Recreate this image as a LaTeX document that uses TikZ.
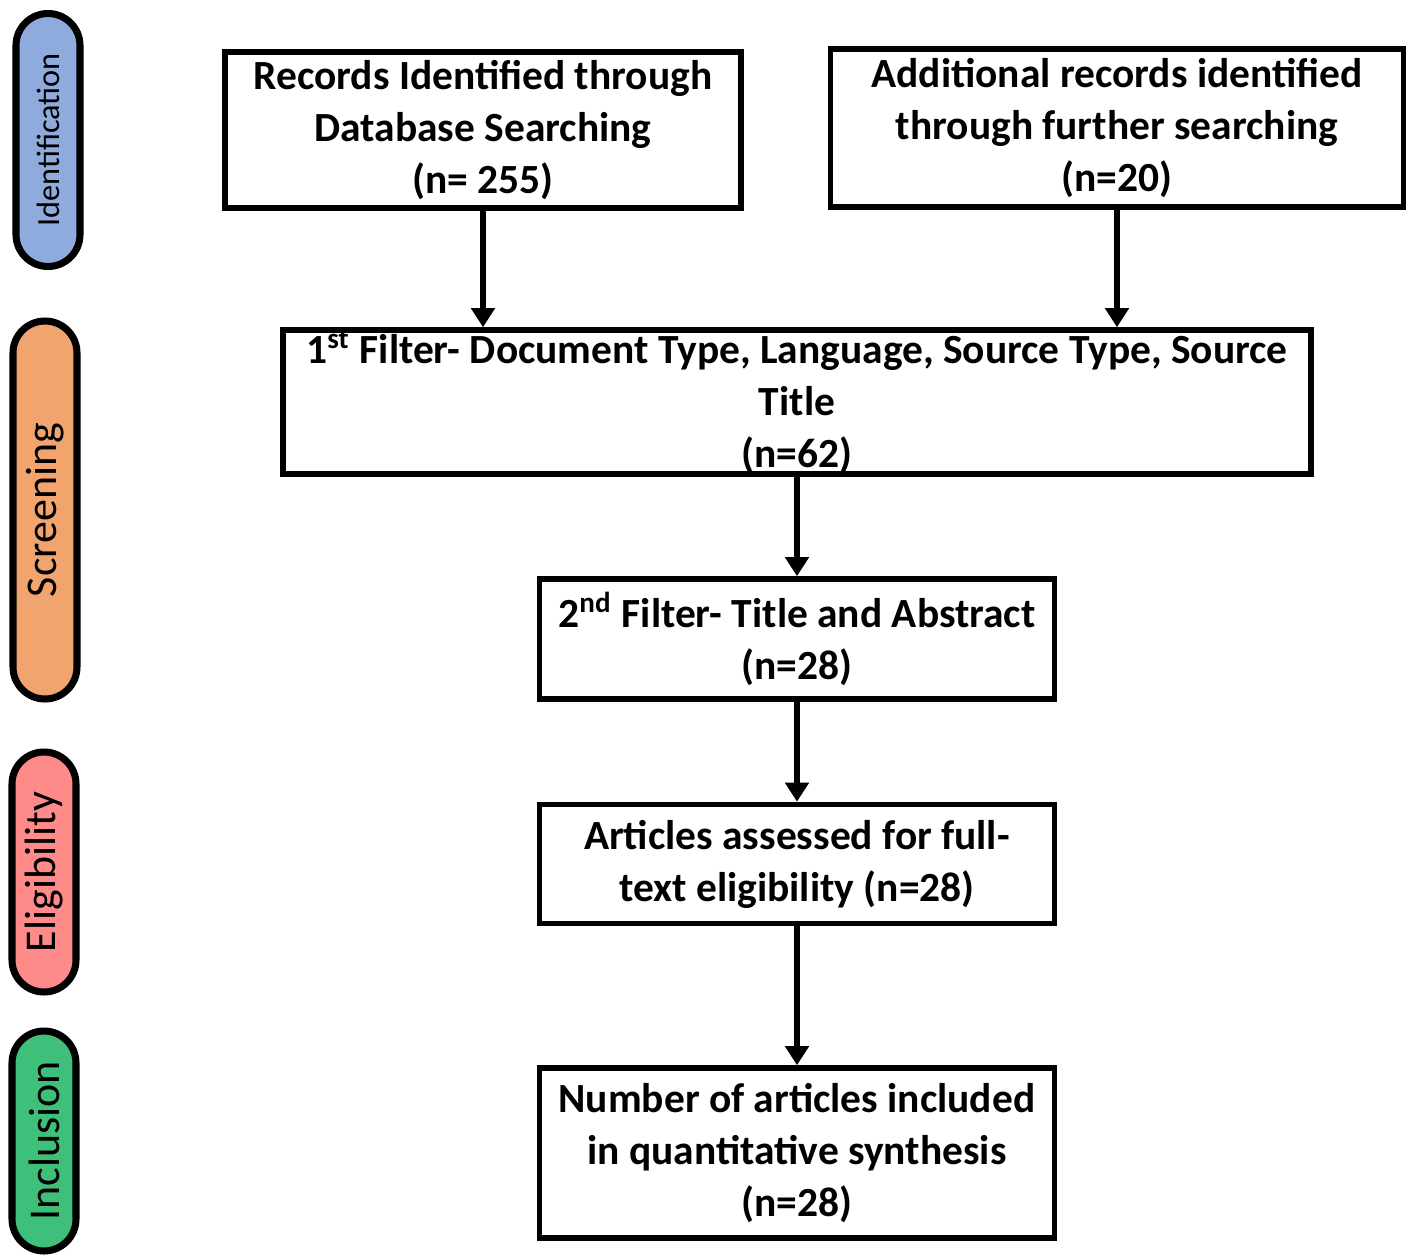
\documentclass[tikz,border=0pt]{standalone}
\usepackage{fontspec}
\setmainfont{Carlito}
\usetikzlibrary{arrows.meta}

\definecolor{idblue}{RGB}{143,170,220}
\definecolor{scrorange}{RGB}{242,164,110}
\definecolor{elgpink}{RGB}{255,138,138}
\definecolor{incgreen}{RGB}{62,192,122}

\begin{document}
\begin{tikzpicture}[
    stagebox/.style={draw, line width=1.6pt, inner xsep=2pt, inner ysep=0pt, align=center,
        font=\fontsize{11.8}{14.8}\selectfont\bfseries},
    phase/.style={draw, line width=2pt, rotate=90, rounded corners=0.32cm, minimum height=0.64cm,
        inner sep=0pt, font=\fontsize{12.5}{14}\selectfont},
    flow/.style={line width=1.7pt, -{Triangle[width=0.23cm,length=0.19cm]}}
]
    \useasboundingbox (0,0) rectangle (14.13,-12.58);

    % Phase labels on the left
    \node[phase, fill=idblue, minimum width=2.53cm, font=\fontsize{9.2}{11}\selectfont] (ident) at (0.48,-1.40) {Identification};
    \node[phase, fill=scrorange, minimum width=3.78cm] (screen) at (0.45,-5.10) {Screening};
    \node[phase, fill=elgpink, minimum width=2.40cm] (elig) at (0.44,-8.72) {Eligibility};
    \node[phase, fill=incgreen, minimum width=2.20cm] (incl) at (0.44,-11.41) {Inclusion};

    % Identification boxes
    \node[stagebox, minimum width=5.16cm, minimum height=1.56cm] (recs) at (4.83,-1.30)
        {Records Identified through\\Database Searching\\(n= 255)};
    \node[stagebox, minimum width=5.73cm, minimum height=1.58cm] (extra) at (11.17,-1.28)
        {Additional records identified\\through further searching\\(n=20)};

    % Screening boxes
    \node[stagebox, minimum width=10.28cm, minimum height=1.44cm] (filt1) at (7.97,-4.02)
        {1\textsuperscript{st} Filter- Document Type, Language, Source Type, Source\\Title\\(n=62)};
    \node[stagebox, minimum width=5.15cm, minimum height=1.20cm] (filt2) at (7.97,-6.39)
        {2\textsuperscript{nd} Filter- Title and Abstract\\(n=28)};

    % Eligibility and inclusion
    \node[stagebox, minimum width=5.15cm, minimum height=1.19cm] (full) at (7.97,-8.64)
        {Articles assessed for full-\\text eligibility (n=28)};
    \node[stagebox, minimum width=5.15cm, minimum height=1.70cm] (final) at (7.97,-11.53)
        {Number of articles included\\in quantitative synthesis\\(n=28)};

    % Arrows
    \draw[flow] (recs.south) -- (recs.south |- filt1.north);
    \draw[flow] (extra.south) -- (extra.south |- filt1.north);
    \draw[flow] (filt1.south) -- (filt2.north);
    \draw[flow] (filt2.south) -- (full.north);
    \draw[flow] (full.south) -- (final.north);
\end{tikzpicture}
\end{document}
